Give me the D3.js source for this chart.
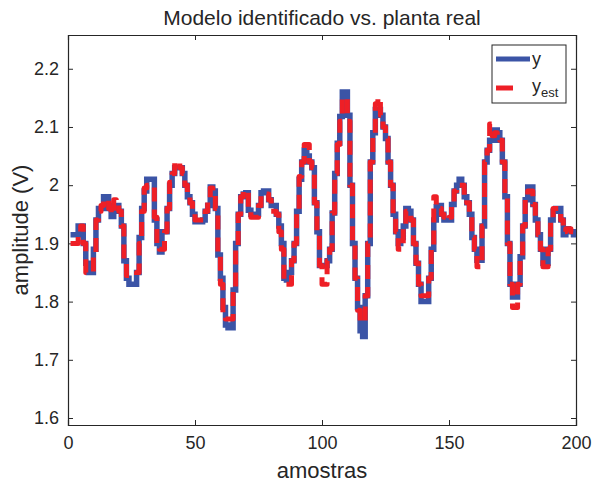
<!DOCTYPE html>
<html lang="en">
<head>
    <meta charset="UTF-8">
    <title>Modelo identificado vs. planta real</title>
    <style>
        body {
            margin: 0;
            background-color: #fff;
        }

        svg text {
            font-family: Arial, "Liberation Sans", sans-serif;
            fill: #262626;
        }

        .axis path, .axis line {
            stroke: #262626;
        }
    </style>
</head>
<body>
    <svg id="chart" width="592" height="484"></svg>

    <script src="https://d3js.org/d3.v7.min.js"></script>
    <script>
        // measured output of the plant (y), one value per sample 1..200
        const yReal = [
            1.915, 1.915, 1.915, 1.93, 1.93, 1.90, 1.866, 1.85, 1.85, 1.89,
            1.94, 1.96, 1.96, 1.98, 1.98, 1.96, 1.946, 1.965, 1.965, 1.955,
            1.93, 1.87, 1.84, 1.83, 1.83, 1.83, 1.85, 1.91, 1.96, 1.99,
            2.01, 2.01, 2.01, 1.94, 1.90, 1.885, 1.92, 1.92, 1.96, 2.00,
            2.02, 2.03, 2.03, 2.03, 2.02, 2.00, 1.98, 1.97, 1.95, 1.937,
            1.937, 1.937, 1.94, 1.955, 1.965, 1.997, 1.99, 1.96, 1.88, 1.84,
            1.79, 1.76, 1.755, 1.755, 1.82, 1.90, 1.95, 1.98, 1.985, 1.987,
            1.957, 1.95, 1.95, 1.95, 1.965, 1.987, 1.99, 1.99, 1.975, 1.965,
            1.965, 1.95, 1.93, 1.90, 1.84, 1.837, 1.85, 1.87, 1.90, 1.955,
            2.01, 2.04, 2.06, 2.05, 2.04, 2.03, 1.97, 1.92, 1.862, 1.862,
            1.862, 1.87, 1.89, 1.952, 2.02, 2.072, 2.118, 2.16, 2.16, 2.12,
            2.00, 1.90, 1.84, 1.79, 1.75, 1.74, 1.81, 1.90, 2.04, 2.09,
            2.13, 2.13, 2.12, 2.10, 2.08, 2.04, 2.00, 1.95, 1.92, 1.90,
            1.91, 1.93, 1.96, 1.955, 1.94, 1.90, 1.866, 1.83, 1.80, 1.80,
            1.80, 1.84, 1.89, 1.94, 1.963, 1.965, 1.95, 1.94, 1.94, 1.94,
            1.967, 1.99, 2.00, 2.01, 2.00, 1.98, 1.97, 1.95, 1.91, 1.89,
            1.871, 1.871, 1.93, 2.04, 2.06, 2.077, 2.077, 2.095, 2.09, 2.077,
            2.04, 1.98, 1.90, 1.83, 1.808, 1.808, 1.83, 1.877, 1.93, 1.975,
            1.997, 1.997, 1.967, 1.94, 1.915, 1.89, 1.866, 1.866, 1.89, 1.94,
            1.955, 1.96, 1.96, 1.94, 1.915, 1.925, 1.92, 1.92, 1.915, 1.91
        ];

        // output of the identified model (y_est)
        const yEst = [
            1.90, 1.90, 1.90, 1.915, 1.93, 1.90, 1.85, 1.85, 1.85, 1.885,
            1.94, 1.955, 1.965, 1.975, 1.975, 1.96, 1.95, 1.975, 1.97, 1.955,
            1.93, 1.87, 1.845, 1.845, 1.845, 1.845, 1.85, 1.90, 1.955, 1.995,
            2.00, 2.00, 2.00, 1.945, 1.90, 1.89, 1.89, 1.92, 1.96, 2.005,
            2.02, 2.04, 2.04, 2.03, 2.02, 2.00, 1.98, 1.97, 1.95, 1.94,
            1.94, 1.94, 1.94, 1.955, 1.975, 1.995, 1.99, 1.96, 1.88, 1.83,
            1.78, 1.77, 1.77, 1.77, 1.82, 1.895, 1.95, 1.98, 1.99, 1.99,
            1.96, 1.945, 1.945, 1.945, 1.965, 1.985, 1.985, 1.985, 1.975, 1.955,
            1.955, 1.95, 1.92, 1.89, 1.835, 1.83, 1.83, 1.87, 1.90, 1.955,
            2.015, 2.04, 2.07, 2.07, 2.04, 2.03, 1.97, 1.92, 1.862, 1.83,
            1.83, 1.87, 1.89, 1.952, 2.02, 2.07, 2.11, 2.15, 2.15, 2.11,
            2.00, 1.90, 1.84, 1.785, 1.765, 1.765, 1.81, 1.90, 2.04, 2.09,
            2.14, 2.15, 2.12, 2.10, 2.08, 2.04, 2.00, 1.95, 1.92, 1.89,
            1.89, 1.93, 1.955, 1.955, 1.94, 1.90, 1.866, 1.83, 1.81, 1.81,
            1.81, 1.84, 1.89, 1.98, 1.963, 1.96, 1.95, 1.945, 1.94, 1.945,
            1.967, 1.99, 2.00, 2.00, 2.00, 1.98, 1.97, 1.95, 1.91, 1.89,
            1.86, 1.86, 1.93, 2.04, 2.06, 2.105, 2.085, 2.09, 2.085, 2.077,
            2.04, 1.98, 1.90, 1.83, 1.79, 1.79, 1.83, 1.877, 1.93, 1.98,
            1.99, 1.99, 1.967, 1.94, 1.915, 1.89, 1.86, 1.86, 1.89, 1.94,
            1.96, 1.96, 1.96, 1.94, 1.92, 1.925, 1.925, 1.92, 1.92, 1.915
        ];

        const xTicks = [0, 50, 100, 150, 200];
        const yTicks = [1.6, 1.7, 1.8, 1.9, 2.0, 2.1, 2.2];
        const xLimits = [0, 200];
        const yLimits = [1.588, 2.258];

        const svg = d3.select("#chart");
        const margin = { left: 68, right: 16, top: 35, bottom: 59 };
        const width = 592 - margin.left - margin.right;
        const height = 484 - margin.top - margin.bottom;

        const x = d3.scaleLinear().domain(xLimits).range([0, width]);
        const y = d3.scaleLinear().domain(yLimits).range([height, 0]);

        const g = svg.append("g")
            .attr("transform", `translate(${margin.left},${margin.top})`);

        g.append("clipPath").attr("id", "plotArea")
            .append("rect").attr("width", width).attr("height", height);

        const fmt = d => d3.format("~g")(d);

        // axes, ticks pointing inwards, box on all four sides
        g.append("g").attr("class", "axis")
            .attr("transform", `translate(0,${height})`)
            .call(d3.axisBottom(x).tickValues(xTicks).tickSize(-5).tickPadding(11).tickFormat(fmt))
            .call(a => a.selectAll("text").attr("font-size", 18).attr("dy", "0.71em"));
        g.append("g").attr("class", "axis")
            .call(d3.axisTop(x).tickValues(xTicks).tickSize(-5).tickFormat(""));
        g.append("g").attr("class", "axis")
            .call(d3.axisLeft(y).tickValues(yTicks).tickSize(-5).tickPadding(9).tickFormat(fmt))
            .call(a => a.selectAll("text").attr("font-size", 18));
        g.append("g").attr("class", "axis")
            .attr("transform", `translate(${width},0)`)
            .call(d3.axisRight(y).tickValues(yTicks).tickSize(-5).tickFormat(""));

        g.selectAll(".axis .domain").attr("stroke-width", 1.2);

        const stairs = d3.line()
            .x((d, i) => x(i + 1))
            .y(d => y(d))
            .curve(d3.curveStepAfter);

        const lines = g.append("g").attr("clip-path", "url(#plotArea)");

        lines.append("path")
            .datum(yReal)
            .attr("fill", "none")
            .attr("stroke", "#3b54a6")
            .attr("stroke-width", 5.5)
            .attr("d", stairs);

        lines.append("path")
            .datum(yEst)
            .attr("fill", "none")
            .attr("stroke", "#ee1f26")
            .attr("stroke-width", 5)
            .attr("stroke-linejoin", "round")
            .attr("stroke-dasharray", "14,8")
            .attr("d", stairs);

        // title and axis labels
        svg.append("text")
            .attr("x", margin.left + width / 2)
            .attr("y", 25)
            .attr("text-anchor", "middle")
            .attr("font-size", 21)
            .attr("fill", "#000")
            .text("Modelo identificado vs. planta real");

        svg.append("text")
            .attr("x", margin.left + width / 2)
            .attr("y", 478)
            .attr("text-anchor", "middle")
            .attr("font-size", 22)
            .text("amostras");

        svg.append("text")
            .attr("transform", `translate(28,${margin.top + height / 2}) rotate(-90)`)
            .attr("text-anchor", "middle")
            .attr("font-size", 22)
            .text("amplitude (V)");

        // legend
        const legend = svg.append("g").attr("transform", "translate(492,45)");
        legend.append("rect")
            .attr("width", 74).attr("height", 58)
            .attr("fill", "#fff").attr("stroke", "#262626").attr("stroke-width", 1);
        legend.append("line")
            .attr("x1", 4).attr("x2", 38).attr("y1", 14).attr("y2", 14)
            .attr("stroke", "#3b54a6").attr("stroke-width", 5);
        legend.append("text")
            .attr("x", 40).attr("y", 20).attr("font-size", 18).text("y");
        legend.append("line")
            .attr("x1", 4).attr("x2", 21).attr("y1", 43).attr("y2", 43)
            .attr("stroke", "#ee1f26").attr("stroke-width", 5);
        const est = legend.append("text")
            .attr("x", 40).attr("y", 47).attr("font-size", 18);
        est.append("tspan").text("y");
        est.append("tspan").attr("font-size", 13).attr("dy", 5).text("est");
    </script>
</body>
</html>
